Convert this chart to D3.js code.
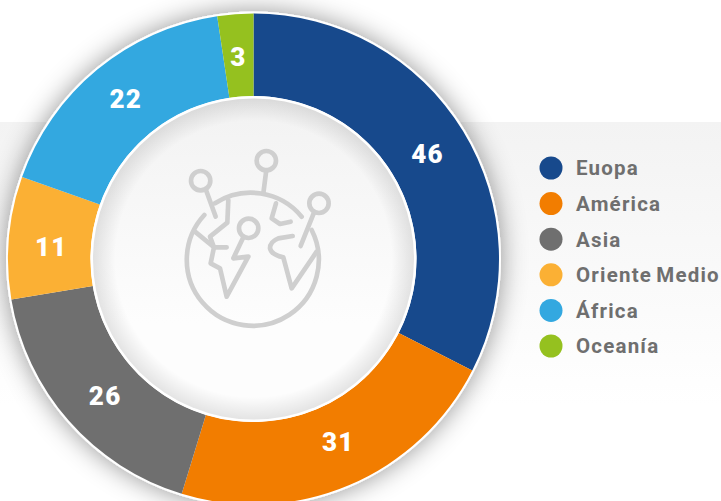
<!DOCTYPE html>
<html>
<head>
<meta charset="utf-8">
<script src="https://cdn.jsdelivr.net/npm/d3@7"></script>
<style>
  html, body { margin: 0; padding: 0; background: #fff; overflow: hidden; }
  text { font-family: Roboto, sans-serif; font-weight: 700; }
</style>
</head>
<body>
<script>
// Data
const categories = ['Euopa', 'América', 'Asia', 'Oriente Medio', 'África', 'Oceanía']
const labelValues = [46, 31, 26, 11, 22, 3]
// Slice sizes as drawn in the picture (degrees), they are not quite proportional to the labels
const sliceDegrees = [117, 80, 63.5, 29, 62, 8.5]
const colors = ['#17498c', '#f27d00', '#6f6f6f', '#fbb034', '#33a8e0', '#95c11f']

const width = 721
const height = 501
const cx = 253.5
const cy = 259
const outerR = 245.5
const innerR = 163

const svg = d3.select('body').append('svg')
  .attr('width', width)
  .attr('height', height)
  .style('display', 'block')

const defs = svg.append('defs')

const panelGrad = defs.append('linearGradient')
  .attr('id', 'panel').attr('x1', 0).attr('y1', 0).attr('x2', 0).attr('y2', 1)
panelGrad.append('stop').attr('offset', '0%').attr('stop-color', '#f3f3f3')
panelGrad.append('stop').attr('offset', '75%').attr('stop-color', '#ffffff')

const diskGrad = defs.append('linearGradient')
  .attr('id', 'disk').attr('x1', 0).attr('y1', 0).attr('x2', 0).attr('y2', 1)
diskGrad.append('stop').attr('offset', '0%').attr('stop-color', '#f2f2f2')
diskGrad.append('stop').attr('offset', '70%').attr('stop-color', '#fdfdfd')

const edgeGrad = defs.append('radialGradient').attr('id', 'edge')
edgeGrad.append('stop').attr('offset', '86%').attr('stop-color', '#000').attr('stop-opacity', 0)
edgeGrad.append('stop').attr('offset', '100%').attr('stop-color', '#000').attr('stop-opacity', 0.1)

const outerShadow = defs.append('filter').attr('id', 'outerShadow')
  .attr('x', '-20%').attr('y', '-20%').attr('width', '140%').attr('height', '140%')
outerShadow.append('feDropShadow')
  .attr('dx', 0).attr('dy', 0).attr('stdDeviation', 13)
  .attr('flood-color', '#000').attr('flood-opacity', 0.42)

// Background panel
svg.append('rect')
  .attr('x', 0).attr('y', 122)
  .attr('width', width).attr('height', height - 122)
  .attr('fill', 'url(#panel)')

// Donut
const donut = svg.append('g').attr('transform', `translate(${cx},${cy})`)

donut.append('circle')
  .attr('r', outerR + 2)
  .attr('fill', '#fff')
  .attr('filter', 'url(#outerShadow)')

const pie = d3.pie().sort(null).value(d => d)
const arcs = pie(sliceDegrees)
const arc = d3.arc().innerRadius(innerR).outerRadius(outerR)
const labelArc = d3.arc().innerRadius(204).outerRadius(204)
// small hand nudges, the labels are not exactly on the slice centres
const labelNudge = [[0, 1], [5, -5], [5, 2], [1, 5], [2, -3], [0, 1]]

donut.selectAll('.slice')
  .data(arcs)
  .enter()
  .append('path')
  .attr('class', 'slice')
  .attr('d', arc)
  .attr('fill', (_, i) => colors[i])

donut.append('circle')
  .attr('r', innerR)
  .attr('fill', '#fff')

donut.append('circle')
  .attr('r', innerR - 2.5)
  .attr('fill', 'url(#disk)')

donut.append('circle')
  .attr('r', innerR - 2.5)
  .attr('fill', 'url(#edge)')

donut.selectAll('.value')
  .data(arcs)
  .enter()
  .append('text')
  .attr('class', 'value')
  .attr('x', (d, i) => labelArc.centroid(d)[0] + labelNudge[i][0])
  .attr('y', (d, i) => labelArc.centroid(d)[1] + labelNudge[i][1])
  .attr('dy', '0.36em')
  .attr('text-anchor', 'middle')
  .attr('fill', '#fff')
  .style('font-size', '26px')
  .style('font-weight', 900)
  .style('letter-spacing', '1.2px')
  .text((_, i) => labelValues[i])

// Globe icon, paths traced at 3x
const icon = svg.append('g')
  .attr('transform', 'translate(170,140) scale(0.3333)')
  .attr('fill', 'none')
  .attr('stroke', '#cfcfcf')
  .attr('stroke-width', 14)
  .attr('stroke-linecap', 'round')
  .attr('stroke-linejoin', 'round')

const iconPaths = [
  'M135,190 A198,198 0 0 1 395,230',
  'M425,270 A198,198 0 1 1 103,225',
  'M289,90 L280,160',
  'M108,150 L137,230',
  'M432,218 L392,318',
  'M175,180 L172,248 L120,290 L132,322 L170,322',
  'M75,275 L132,322 L122,370 L150,385 L170,470 L235,350 L190,355 L220,292',
  'M318,190 L305,235 L330,252 L362,245',
  'M368,288 L325,295 Q300,305 300,325 Q305,345 340,352 L365,445 L440,335'
]
icon.selectAll('path')
  .data(iconPaths)
  .enter()
  .append('path')
  .attr('d', d => d)

const iconPins = [[289, 62], [92, 122], [447, 190], [236, 265]]
icon.selectAll('circle')
  .data(iconPins)
  .enter()
  .append('circle')
  .attr('cx', d => d[0])
  .attr('cy', d => d[1])
  .attr('r', 29)

// Legend
const legendY = d3.scalePoint().domain(categories).range([168, 346])

const legend = svg.append('g').attr('id', 'legend')

legend.selectAll('circle')
  .data(categories)
  .enter()
  .append('circle')
  .attr('cx', 551)
  .attr('cy', d => legendY(d))
  .attr('r', 11.5)
  .attr('fill', (_, i) => colors[i])

legend.selectAll('text')
  .data(categories)
  .enter()
  .append('text')
  .attr('x', 576)
  .attr('y', d => legendY(d))
  .attr('dy', '0.36em')
  .attr('fill', '#6f6f6f')
  .style('font-size', '20.5px')
  .style('letter-spacing', '1.2px')
  .style('word-spacing', '-2px')
  .text(d => d)
</script>
</body>
</html>
